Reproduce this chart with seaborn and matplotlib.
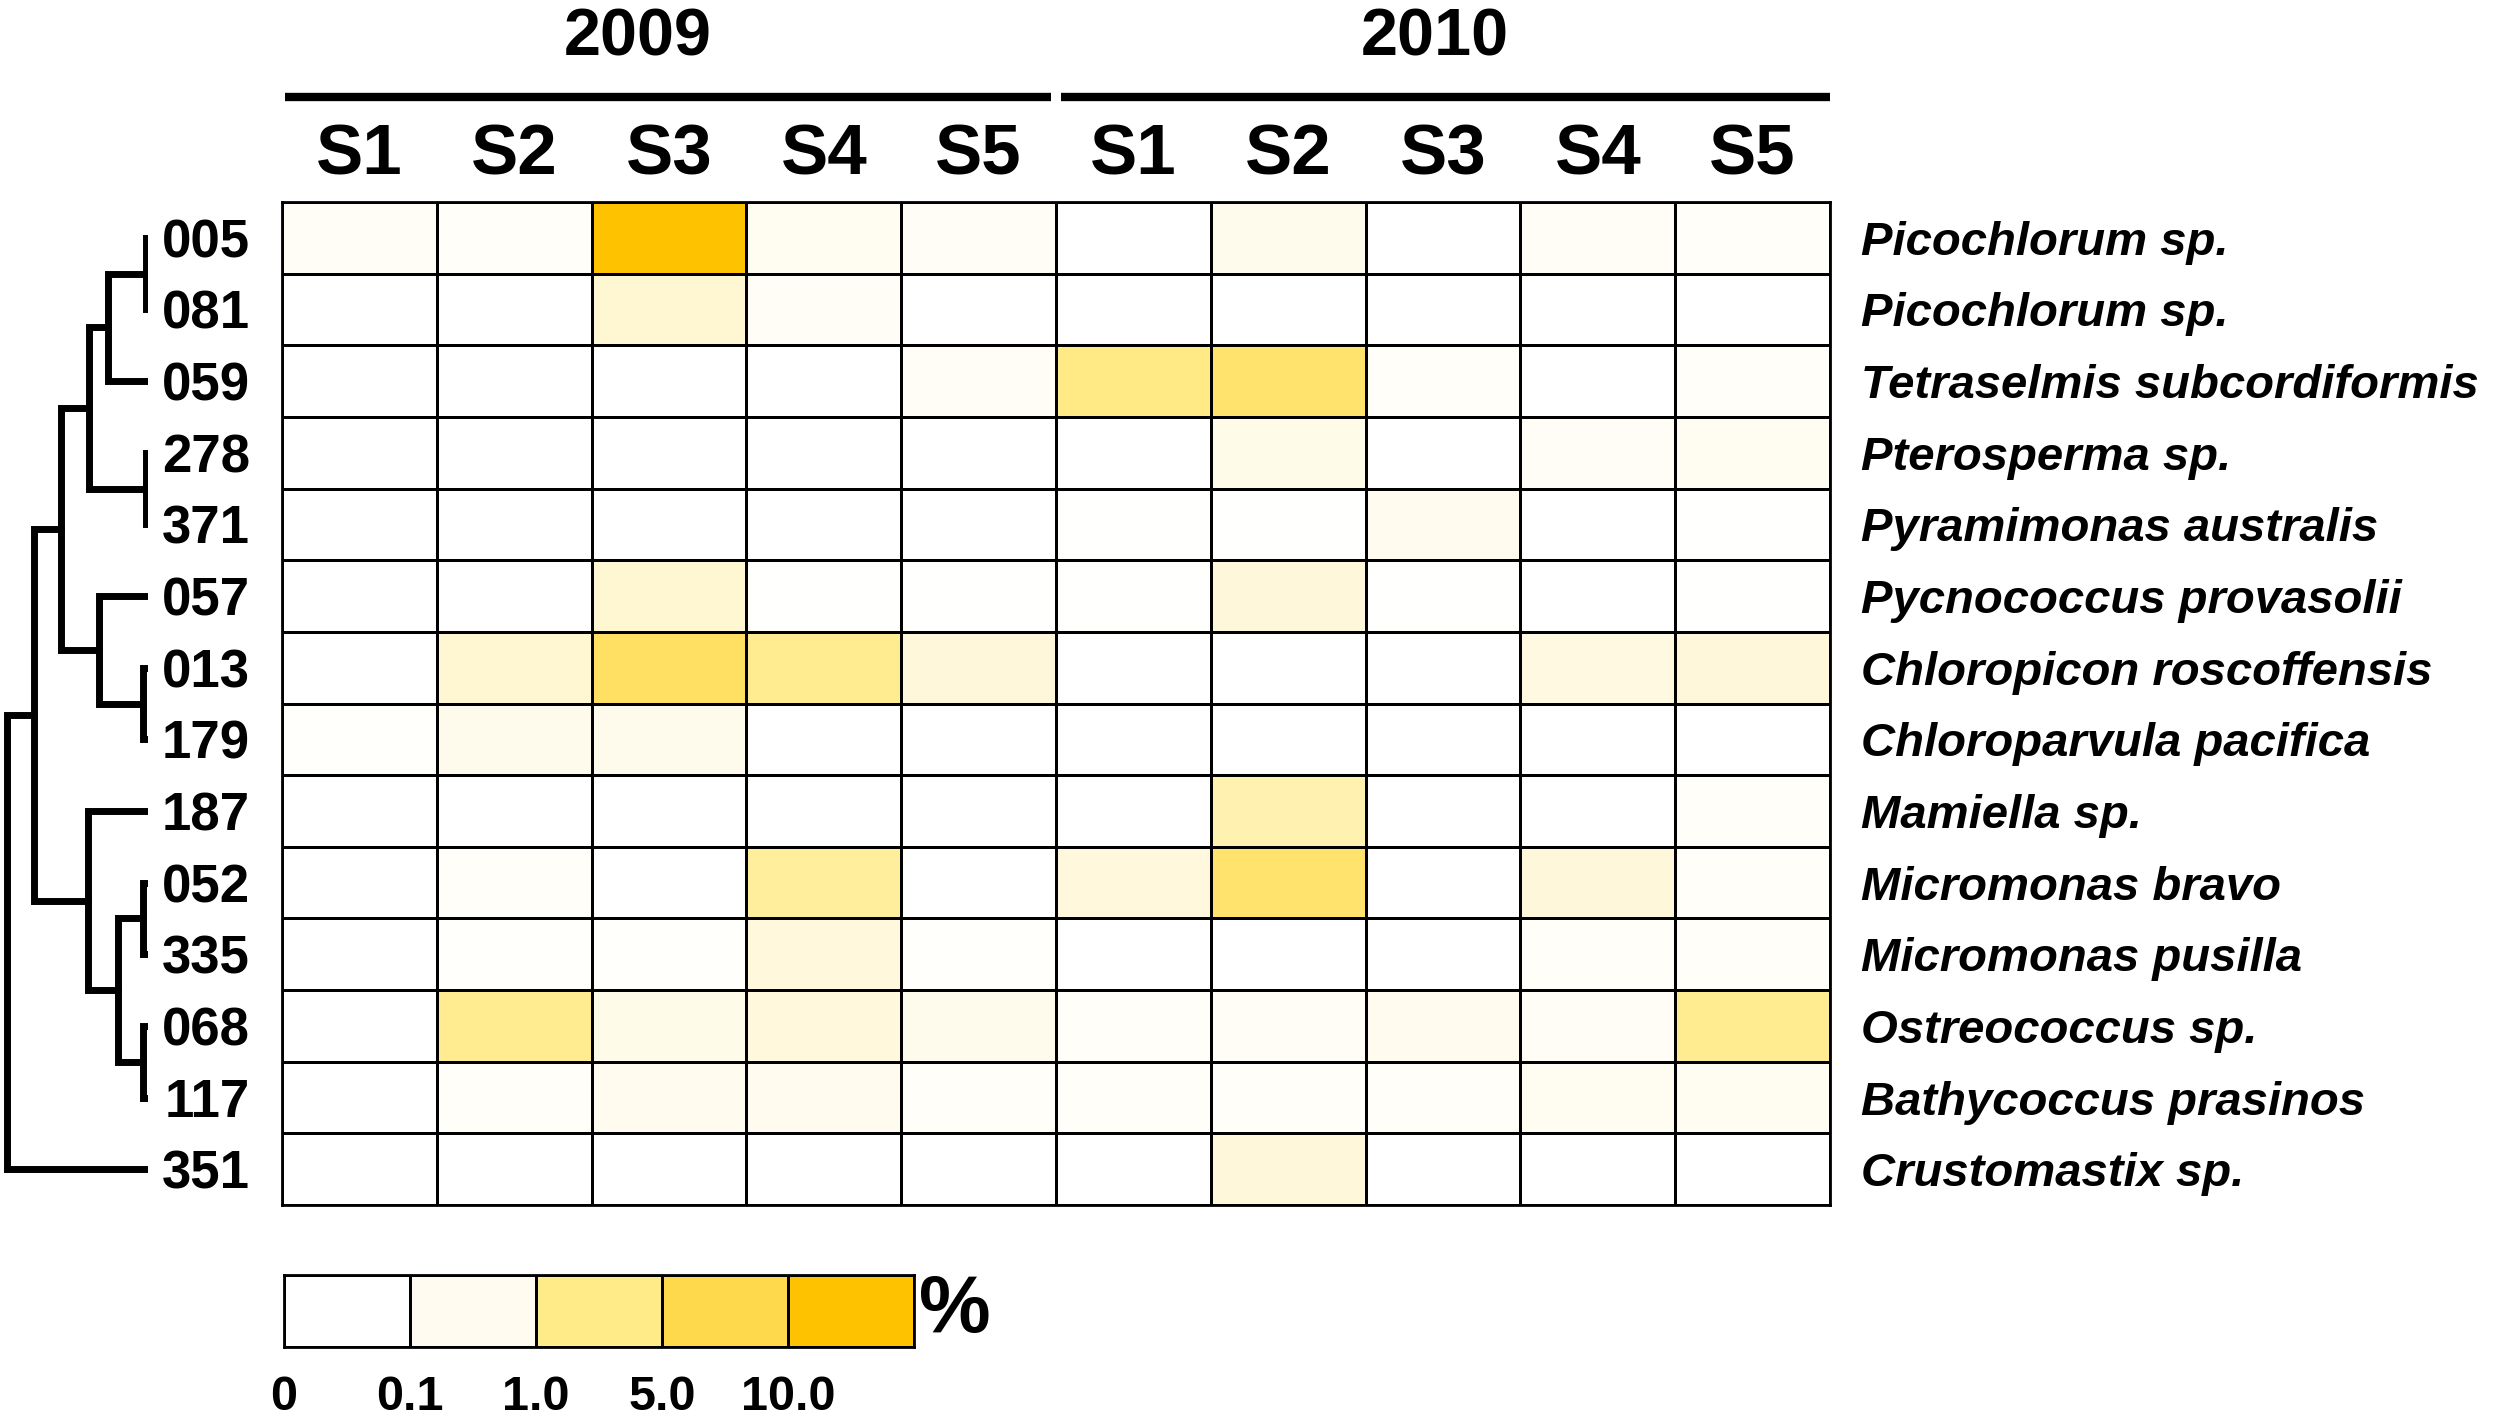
import numpy as np
import pandas as pd
import seaborn as sns
import matplotlib.pyplot as plt
from matplotlib.colors import LinearSegmentedColormap, ListedColormap, FuncNorm
from matplotlib.transforms import blended_transform_factory

# OTUs in dendrogram order
otu_ids = ["005", "081", "059", "278", "371", "057", "013", "179",
           "187", "052", "335", "068", "117", "351"]
species = ["Picochlorum sp.", "Picochlorum sp.", "Tetraselmis subcordiformis",
           "Pterosperma sp.", "Pyramimonas australis", "Pycnococcus provasolii",
           "Chloropicon roscoffensis", "Chloroparvula pacifica", "Mamiella sp.",
           "Micromonas bravo", "Micromonas pusilla", "Ostreococcus sp.",
           "Bathycoccus prasinos", "Crustomastix sp."]
years = ["2009", "2010"]
seasons = ["S1", "S2", "S3", "S4", "S5"]

# relative abundance (%), columns S1..S5
abund_2009 = [
    [0.2, 0.1, 20, 0.3, 0.2],
    [0, 0, 1.5, 0.2, 0],
    [0, 0, 0, 0, 0.2],
    [0, 0, 0, 0, 0],
    [0, 0, 0, 0, 0],
    [0, 0, 1.5, 0.02, 0.02],
    [0, 1.5, 8, 4.5, 1.2],
    [0.05, 0.5, 0.5, 0, 0],
    [0, 0, 0, 0, 0],
    [0, 0.1, 0, 4, 0],
    [0, 0.05, 0.05, 1.0, 0.05],
    [0, 4.5, 0.6, 1.0, 0.5],
    [0, 0.1, 0.4, 0.4, 0.1],
    [0, 0, 0, 0, 0],
]
abund_2010 = [
    [0, 0.5, 0, 0.2, 0.1],
    [0, 0, 0, 0, 0],
    [5, 7, 0.1, 0, 0.1],
    [0, 0.6, 0, 0.2, 0.3],
    [0.02, 0.02, 0.4, 0, 0.02],
    [0.02, 1.2, 0.02, 0, 0.02],
    [0, 0, 0, 0.8, 1.2],
    [0, 0, 0, 0, 0],
    [0, 3, 0, 0, 0.1],
    [1.0, 7, 0, 1.2, 0.1],
    [0, 0, 0, 0.1, 0.1],
    [0.1, 0.2, 0.4, 0.2, 4.5],
    [0.1, 0.1, 0.1, 0.3, 0.3],
    [0, 1.2, 0, 0, 0],
]

# dendrogram merges: (child a, child b, height); new nodes numbered from 14
tree_merges = [
    (0, 1, 2), (14, 2, 40), (3, 4, 2), (15, 16, 59),
    (6, 7, 5), (5, 18, 49), (17, 19, 87),
    (9, 10, 5), (11, 12, 5), (21, 22, 30), (8, 23, 60),
    (20, 24, 114), (25, 13, 141),
]

# legend classes
legend_labels = ["0", "0.1", "1.0", "5.0", "10.0"]
legend_colors = ["#FFFFFF", "#FFFBF0", "#FFEC88", "#FFD94C", "#FFC200"]

cmap_stops = [0, 0.1, 1, 5, 10, 20]
cmap_colors = ["#FFFFFF", "#FFFEF8", "#FFF8DC", "#FFEA86", "#FFDA4A", "#FFC200"]

sns.set_style("white")
plt.rcParams['font.family'] = ['Liberation Sans', 'DejaVu Sans']
plt.rcParams['font.weight'] = 'bold'
plt.rcParams['text.color'] = 'black'
plt.rcParams['xtick.color'] = 'black'
plt.rcParams['ytick.color'] = 'black'
plt.rcParams['xtick.labelcolor'] = 'black'
plt.rcParams['ytick.labelcolor'] = 'black'

cols = [f"{y} {s}" for y in years for s in seasons]
df = pd.DataFrame(np.hstack([np.array(abund_2009), np.array(abund_2010)]),
                  index=otu_ids, columns=cols)

cmap = LinearSegmentedColormap.from_list("ylw", cmap_colors)
idx = np.arange(len(cmap_stops), dtype=float)
norm = FuncNorm((lambda v: np.interp(v, cmap_stops, idx),
                 lambda v: np.interp(v, idx, cmap_stops)), vmin=0, vmax=20)

fig = plt.figure(figsize=(25, 14.18), dpi=100)
W, H = 2500, 1418

# heatmap
ax = fig.add_axes([282 / W, 1 - 1205 / H, 1548 / W, 1003 / H])
sns.heatmap(df, ax=ax, cmap=cmap, norm=norm, cbar=False,
            linewidths=2, linecolor="black",
            xticklabels=seasons * 2, yticklabels=otu_ids)
for s in ax.spines.values():
    s.set_visible(True)
    s.set_linewidth(2)
    s.set_color("black")
ax.tick_params(axis="x", top=True, bottom=False, labeltop=True, labelbottom=False,
               length=0, pad=9, labelsize=51)
ax.tick_params(axis="y", length=0, pad=23, labelsize=38)
plt.setp(ax.get_yticklabels(), rotation=0, fontweight="bold", va="center_baseline")
plt.setp(ax.get_xticklabels(), rotation=0, fontweight="bold")

for i, name in enumerate(species):
    ax.text(10.2, i + 0.5, name, style="italic", fontweight="bold",
            fontsize=34, va="center_baseline", ha="left")

# year headers
tr = blended_transform_factory(ax.transData, ax.transAxes)
ax.plot([0.02, 4.97], [1.105, 1.105], color="black", lw=6, transform=tr,
        clip_on=False, solid_capstyle="butt")
ax.plot([5.03, 10.0], [1.105, 1.105], color="black", lw=6, transform=tr,
        clip_on=False, solid_capstyle="butt")
ax.text(2.3, 1.17, years[0], transform=tr, ha="center", va="center_baseline",
        fontsize=48, fontweight="bold")
ax.text(7.45, 1.17, years[1], transform=tr, ha="center", va="center_baseline",
        fontsize=48, fontweight="bold")

# dendrogram
dax = fig.add_axes([0, 1 - 1205 / H, 148 / W, 1003 / H])
n = len(otu_ids)
pos = {i: (0.0, i + 0.5) for i in range(n)}
for k, (a, b, h) in enumerate(tree_merges):
    xa, ya = pos[a]
    xb, yb = pos[b]
    dax.plot([xa, h, h, xb], [ya, ya, yb, yb], color="black", lw=5,
             solid_joinstyle="miter")
    pos[n + k] = (h, (ya + yb) / 2)
dax.set_xlim(148, 0)
dax.set_ylim(n, 0)
dax.axis("off")

# legend
lax = fig.add_axes([284 / W, 1 - 1347 / H, 630 / W, 72 / H])
sns.heatmap(np.arange(5)[None, :], ax=lax, cmap=ListedColormap(legend_colors),
            cbar=False, linewidths=2, linecolor="black",
            xticklabels=False, yticklabels=False)
for s in lax.spines.values():
    s.set_visible(True)
    s.set_linewidth(2)
    s.set_color("black")
lax.set_xticks(np.arange(5))
lax.set_xticklabels(legend_labels, fontsize=35, fontweight="bold")
lax.tick_params(axis="x", length=0, pad=20)
lax.text(5.04, 0.5, "%", fontsize=58, fontweight="bold", ha="left", va="center")

fig.savefig("out.png", dpi=100)
